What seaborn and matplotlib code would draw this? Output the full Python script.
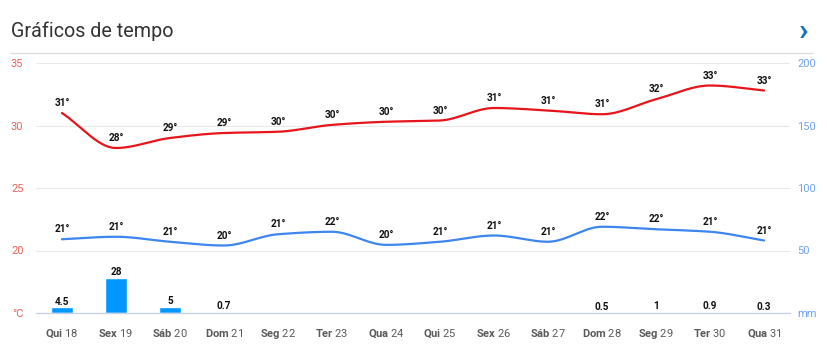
import numpy as np
import matplotlib
matplotlib.use("Agg")
import matplotlib.pyplot as plt
import seaborn as sns

# --- data ---
weekdays = ["Qui", "Sex", "Sáb", "Dom", "Seg", "Ter", "Qua",
            "Qui", "Sex", "Sáb", "Dom", "Seg", "Ter", "Qua"]
daynums = [18, 19, 20, 21, 22, 23, 24, 25, 26, 27, 28, 29, 30, 31]
temp_max = [31.0, 28.2, 29.0, 29.4, 29.5, 30.05, 30.3,
            30.4, 31.4, 31.2, 30.9, 32.1, 33.2, 32.8]
temp_min = [20.9, 21.1, 20.7, 20.4, 21.3, 21.5, 20.45,
            20.7, 21.2, 20.7, 21.9, 21.7, 21.5, 20.8]
max_labels = [31, 28, 29, 29, 30, 30, 30, 30, 31, 31, 31, 32, 33, 33]
min_labels = [21, 21, 21, 20, 21, 22, 20, 21, 21, 21, 22, 22, 21, 21]
precip = [4.5, 28, 5, 0.7, 0, 0, 0, 0, 0, 0, 0.5, 1, 0.9, 0.3]
precip_labels = ["4.5", "28", "5", "0.7", "", "", "", "", "", "", "0.5", "1", "0.9", "0.3"]

RED = "#e8141c"
BLUE = "#3d85ef"
BAR = "#0098ff"


def smooth(x, y, n=30):
    # monotone cubic hermite (Fritsch-Carlson) for a soft curve through the points
    x = np.asarray(x, float)
    y = np.asarray(y, float)
    h = np.diff(x)
    d = np.diff(y) / h
    m = np.zeros_like(y)
    m[0], m[-1] = d[0], d[-1]
    for i in range(1, len(y) - 1):
        if d[i - 1] * d[i] <= 0:
            m[i] = 0
        else:
            m[i] = 2 / (1 / d[i - 1] + 1 / d[i])
    xs, ys = [], []
    for i in range(len(x) - 1):
        t = np.linspace(0, 1, n, endpoint=False)
        h00 = 2 * t**3 - 3 * t**2 + 1
        h10 = t**3 - 2 * t**2 + t
        h01 = -2 * t**3 + 3 * t**2
        h11 = t**3 - t**2
        xs.append(x[i] + t * h[i])
        ys.append(h00 * y[i] + h10 * h[i] * m[i] + h01 * y[i + 1] + h11 * h[i] * m[i + 1])
    xs.append([x[-1]])
    ys.append([y[-1]])
    return np.concatenate(xs), np.concatenate(ys)


sns.set_theme(style="white")
plt.rcParams["font.family"] = ["Roboto", "DejaVu Sans"]
plt.rcParams["mathtext.fontset"] = "custom"
plt.rcParams["mathtext.rm"] = "Roboto"
plt.rcParams["mathtext.bf"] = "Roboto:bold"

fig = plt.figure(figsize=(8.28, 3.51), dpi=100)
ax = fig.add_axes([36 / 828, 1 - 313 / 351, (790 - 36) / 828, (313 - 63) / 351])
ax2 = ax.twinx()

x = np.arange(len(daynums))

# precipitation bars on the right axis
ax2.bar(x, precip, width=0.41, color=BAR, zorder=2)
for xi, v, lab in zip(x, precip, precip_labels):
    if lab:
        ax2.annotate(lab, (xi, v), xytext=(0, 0.5), textcoords="offset points",
                     ha="center", va="bottom", fontsize=7.2, fontweight="bold", color="#111111")
ax2.set_ylim(0, 200)
ax2.set_yticks([0, 50, 100, 150, 200])
ax2.set_yticklabels(["mm", "50", "100", "150", "200"])
ax2.tick_params(axis="y", length=0, pad=5, labelsize=8, labelcolor="#6fa3f2")

# temperature curves
for vals, labs, col in [(temp_max, max_labels, RED), (temp_min, min_labels, BLUE)]:
    sx, sy = smooth(x, vals)
    sns.lineplot(x=sx, y=sy, ax=ax, color=col, linewidth=1.6, sort=False, zorder=3)
    for xi, v, lab in zip(x, vals, labs):
        ax.annotate(f"{lab}°", (xi, v), xytext=(0, 3.5), textcoords="offset points",
                    ha="center", va="bottom", fontsize=7.2, fontweight="bold", color="#111111")

ax.set_xlim(-0.48, 13.48)
ax.set_ylim(15, 35)
ax.set_yticks([15, 20, 25, 30, 35])
ax.set_yticklabels(["°C", "20", "25", "30", "35"])
ax.tick_params(axis="y", length=0, pad=9, labelsize=8, labelcolor="#f0625c")
for yv in [20, 25, 30, 35]:
    ax.axhline(yv, color="#e9e9e9", linewidth=0.8, zorder=0)

ax.set_xticks(x)
ax.set_xticklabels([rf"$\mathbf{{{w}}}$ {d}" for w, d in zip(weekdays, daynums)])
ax.tick_params(axis="x", length=6, width=0.8, color="#c6d3e6", pad=4,
               labelsize=8, labelcolor="#5a5a5a")

for a in (ax, ax2):
    for s in a.spines.values():
        s.set_visible(False)
ax.spines["bottom"].set_visible(True)
ax.spines["bottom"].set_color("#c6d3e6")
ax.spines["bottom"].set_linewidth(1)
ax.set_zorder(ax2.get_zorder() + 1)
ax.patch.set_visible(False)

# header
fig.text(11 / 828, 1 - 31 / 351, "Gráficos de tempo", fontsize=14.2, color="#333333",
         ha="left", va="center")
fig.text(804 / 828, 1 - 31 / 351, "›", fontsize=23, fontweight="bold", color="#1a6fc4",
         ha="center", va="center")
fig.add_artist(plt.Line2D([11 / 828, 812 / 828], [1 - 53 / 351, 1 - 53 / 351],
                          color="#dcdcdc", linewidth=1))

fig.savefig("out.png", dpi=100)
